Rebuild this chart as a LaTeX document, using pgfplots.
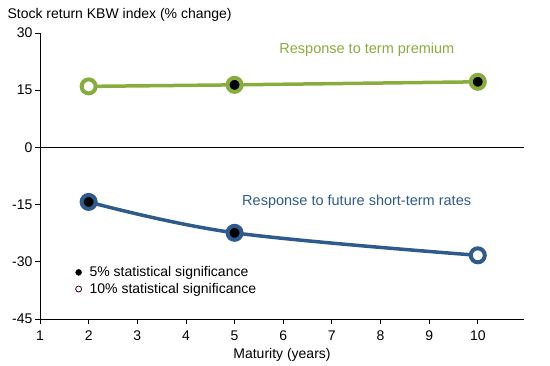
\documentclass[border=0pt]{standalone}
\usepackage{pgfplots}
\pgfplotsset{compat=1.18}
\usepackage{fontspec}
\setmainfont{Liberation Sans}
\definecolor{cgreen}{RGB}{137,172,62}
\definecolor{cblue}{RGB}{46,91,140}
\begin{document}
\begin{tikzpicture}
\begin{axis}[
  name=ax,
  scale only axis,
  width=484pt, height=286pt,
  xmin=1, xmax=10.95, ymin=-45, ymax=30,
  xtick={1,...,10}, ytick={-45,-30,-15,0,15,30},
  axis x line*=bottom, axis y line*=left,
  axis line style={line width=0.8pt, -},
  tick style={black, line width=0.8pt},
  tick align=outside, major tick length=5pt,
  /pgf/number format/assume math mode=true,
  ticklabel style={font=\fontsize{14}{16}\selectfont},
  yticklabel style={xshift=1pt},
  xticklabel style={yshift=-3pt},
  xlabel={Maturity (years)},
  xlabel style={font=\fontsize{14}{16}\selectfont, yshift=-1pt},
  clip=false,
  legend style={at={(rel axis cs:0.067,0.198)}, anchor=north west, draw=none, fill=none,
    font=\fontsize{14}{16}\selectfont, row sep=1pt,
    /tikz/every odd column/.append style={column sep=6pt}},
  legend cell align=left,
]
\addlegendimage{only marks, mark=*, mark size=3pt, black}
\addlegendentry{5\% statistical significance}
\addlegendimage{only marks, mark=o, mark size=3pt, draw=black!80!red, line width=0.8pt}
\addlegendentry{10\% statistical significance}
\draw[line width=0.8pt] (axis cs:1,0) -- (axis cs:10.95,0);
\addplot[cgreen, line width=3.5pt, forget plot] coordinates {(2,16.0) (5,16.4) (10,17.2)};
\addplot[cblue, line width=3.5pt, smooth, tension=0.6, forget plot] coordinates {(2,-14.3) (5,-22.4) (10,-28.3)};
\addplot[only marks, mark=*, mark size=7pt, mark options={draw=cgreen, fill=black, line width=4pt}, forget plot] coordinates {(5,16.4) (10,17.2)};
\addplot[only marks, mark=*, mark size=7pt, mark options={draw=cgreen, fill=white, line width=4pt}, forget plot] coordinates {(2,16.0)};
\addplot[only marks, mark=*, mark size=7pt, mark options={draw=cblue, fill=black, line width=4pt}, forget plot] coordinates {(2,-14.3) (5,-22.4)};
\addplot[only marks, mark=*, mark size=7pt, mark options={draw=cblue, fill=white, line width=4pt}, forget plot] coordinates {(10,-28.3)};
\node[cgreen, font=\fontsize{14.5}{16}\selectfont] at (axis cs:7.72,25.7) {Response to term premium};
\node[cblue, font=\fontsize{14.5}{16}\selectfont] at (axis cs:7.51,-14.3) {Response to future short-term rates};
\end{axis}
\node[anchor=west, font=\fontsize{14}{16}\selectfont] at ([xshift=-36pt, yshift=18pt]ax.north west) {Stock return KBW index (\% change)};
\pgfresetboundingbox
\path ([xshift=-40pt,yshift=-46pt]ax.south west) rectangle ([xshift=26pt,yshift=33pt]ax.north east);
\end{tikzpicture}
\end{document}
